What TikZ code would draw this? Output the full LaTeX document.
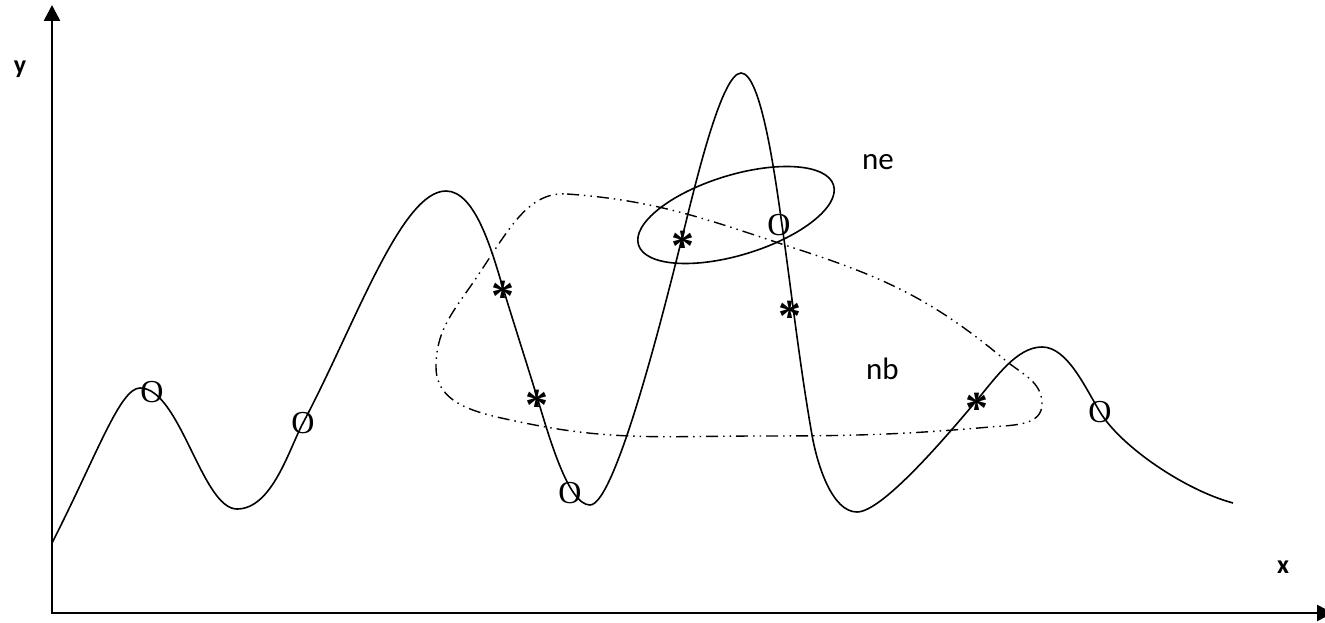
\documentclass[tikz,border=0pt]{standalone}
\usepackage{fontspec}
\setmainfont{Liberation Serif}
\newfontfamily\calibrifont{Carlito}
\usetikzlibrary{arrows.meta}
\begin{document}
\begin{tikzpicture}[x=1pt,y=1pt,
  axis/.style={line width=2.6pt, {Triangle[width=16pt,length=16pt]}-{Triangle[width=16pt,length=16pt]}},
  curve/.style={line width=1.6pt},
  nbloop/.style={line width=1.4pt, dash pattern=on 12pt off 5pt on 1.5pt off 5pt on 1.5pt off 5pt},
  omark/.style={font=\fontsize{32}{32}\selectfont, inner sep=0pt},
  smark/.style={font=\bfseries\fontsize{46}{46}\selectfont, inner sep=0pt, yshift=-8pt},
  axlabel/.style={font=\calibrifont\bfseries\fontsize{26}{26}\selectfont, inner sep=0pt},
  setlabel/.style={font=\calibrifont\fontsize{31}{31}\selectfont, inner sep=0pt}]
\useasboundingbox (0,0) rectangle (1325,622);
% axes
\coordinate (ytop) at (52,617);
\coordinate (xend) at (1333,9);
\draw[axis] (ytop) |- (xend);
\node[axlabel] (ylab) at (20,553) {y};
\node[axlabel] (xlab) at (1283,55) {x};
% curve
\draw[curve] (52,79) .. controls +(63:100) and +(180:20) .. (140,234)
 .. controls +(0:40) and +(180:35) .. (237,113)
 .. controls +(0:35) and +(242:30) .. (303,199)
 .. controls +(62:110) and +(180:45) .. (446,431)
 .. controls +(0:30) and +(107:35) .. (503,334)
 .. controls +(-73:35) and +(107:35) .. (537,225)
 .. controls +(-73:40) and +(180:22) .. (590,117)
 .. controls +(0:25) and +(256:80) .. (682,384)
 .. controls +(76:50) and +(180:20) .. (741,549)
 .. controls +(0:20) and +(98:50) .. (782,397)
 .. controls +(-82:70) and +(100:70) .. (812,187)
 .. controls +(-80:30) and +(180:25) .. (857,110)
 .. controls +(0:25) and +(230:50) .. (977,222)
 .. controls +(50:30) and +(180:25) .. (1042,275)
 .. controls +(0:25) and +(121:30) .. (1100,210)
 .. controls +(-59:40) and +(165:50) .. (1233,119);
% ne ellipse
\draw[curve, rotate around={17:(736,407)}] (736,407) ellipse [x radius=102, y radius=40];
% nb loop
\draw[nbloop] (567,428) to[out=-4,in=162] (800,372)
  to[out=-18,in=140] (1005,262)
  to[out=-40,in=90] (1042,218)
  to[out=-90,in=5] (990,195)
  to[out=185,in=0] (760,186)
  to[out=180,in=-12] (520,200)
  to[out=168,in=-90] (436,255)
  to[out=90,in=235] (470,335)
  to[out=55,in=176,out looseness=1.2,in looseness=0.8] (567,428);
% O marks
\node[omark] (o1) at (152,230) {O};
\node[omark] (o2) at (303,199) {O};
\node[omark] (o3) at (570,129) {O};
\node[omark] (o4) at (779,397) {O};
\node[omark] (o5) at (1100,210) {O};
% star marks
\node[smark] (s1) at (503,334) {*};
\node[smark] (s2) at (537,225) {*};
\node[smark] (s3) at (683,384) {*};
\node[smark] (s4) at (790,314) {*};
\node[smark] (s5) at (977,222) {*};
% labels
\node[setlabel, anchor=base west] (ne) at (862,452) {ne};
\node[setlabel, anchor=base west] (nb) at (866,243) {nb};
\end{tikzpicture}
\end{document}
